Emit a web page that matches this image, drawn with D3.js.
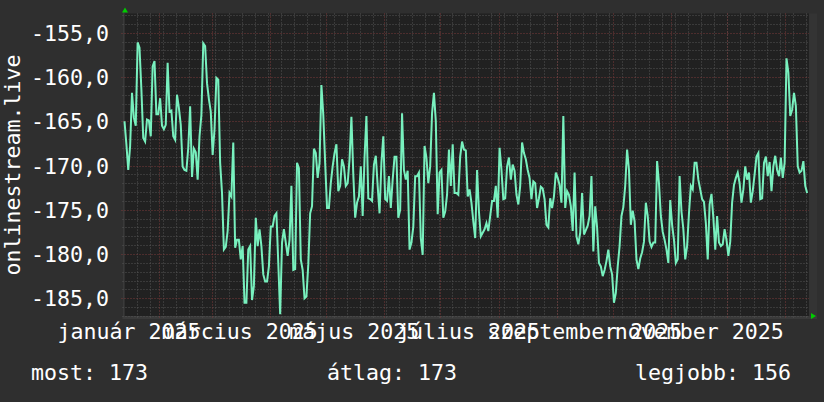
<!DOCTYPE html>
<html>
<head>
<meta charset="utf-8">
<script src="https://cdn.jsdelivr.net/npm/d3@7"></script>
<style>
  body { margin: 0; background: #2f2f2f; }
  svg { display: block; }
  text { font-family: "DejaVu Sans Mono", monospace; font-size: 21.6px; fill: #ffffff; }
</style>
</head>
<body>
<svg id="chart"></svg>
<script>
// napi értékek, 2025-01-13-tól egy évig
const startDate = Date.UTC(2025, 0, 13, 13);
const days = 365;
const values = [
    -165.0, -167.6, -170.5, -167.8, -161.8, -164.6, -165.5, -156.1, -156.7, -161.4,
    -166.9, -167.3, -164.8, -164.9, -166.7, -158.8, -158.2, -164.2, -164.2, -162.4,
    -165.5, -165.9, -165.4, -158.4, -163.9, -163.8, -166.7, -167.1, -162.0, -163.5,
    -165.4, -170.1, -170.5, -170.6, -168.0, -163.3, -171.3, -168.1, -168.5, -171.6,
    -166.7, -164.3, -156.2, -156.5, -160.7, -162.5, -163.9, -168.8, -165.9, -160.1,
    -160.3, -169.7, -173.1, -179.5, -179.2, -177.4, -173.1, -173.5, -167.4, -179.3,
    -178.4,
    -178.4, -180.6, -179.1, -185.5, -185.5, -179.5, -179.1, -185.2, -183.6, -175.9,
    -179.1, -177.2, -179.1, -182.3, -183.1, -183.1, -181.4, -176.9, -176.9, -175.7,
    -175.4, -181.0, -186.8, -178.7, -177.2, -178.7, -180.2, -178.4, -172.3, -181.8,
    -181.7, -169.7, -170.3, -180.6, -181.8, -185.0, -184.8, -181.2, -175.4, -174.6,
    -168.1, -168.6, -171.4, -169.7, -160.9, -164.3, -169.7, -174.8, -174.8, -172.0,
    -170.1, -168.6, -167.6, -172.9, -172.3, -169.3, -170.1, -172.3, -172.0, -169.3,
    -164.5,
    -171.0, -175.9, -174.2, -173.5, -170.1, -175.7, -169.1, -164.4, -173.7, -173.8,
    -174.0, -169.9, -168.9, -172.3, -175.4, -169.7, -166.7, -173.8, -174.0, -171.2,
    -174.8, -171.6, -169.0, -169.0, -175.9, -175.0, -164.1, -170.5, -171.6, -170.6,
    -179.5, -178.7, -176.9, -171.2, -171.2, -170.8, -178.2, -180.1, -167.8, -169.1,
    -172.0, -170.1, -164.1, -161.8, -165.0, -175.5, -170.8, -170.5, -175.9, -175.2,
    -173.3, -168.2, -172.3, -167.6, -173.1, -173.1, -173.3, -169.0, -167.3, -168.2,
    -168.3, -173.5, -172.7, -174.2, -176.3, -178.2, -170.5, -175.2, -178.0, -177.6,
    -177.2, -176.5, -177.4, -175.7, -174.0, -174.0, -172.3, -175.9, -168.0, -170.5,
    -173.8, -173.7, -170.1, -169.1, -171.6, -169.9, -170.6, -173.3, -174.4, -172.3,
    -167.4, -168.6, -169.3, -170.5, -171.4, -173.8, -171.8, -172.0, -174.8, -173.7,
    -172.4, -172.6, -173.8, -176.7, -177.0, -173.7, -174.8, -173.5, -170.8, -171.4,
    -172.2, -174.2, -164.4, -174.8, -172.9, -173.3, -174.6, -177.4, -170.8, -178.0,
    -178.9,
    -177.6, -173.1, -177.8, -177.3, -176.8, -175.7, -171.2, -179.7, -174.6, -177.0,
    -181.0, -181.4, -182.5, -181.8, -180.8, -179.5, -181.4, -182.3, -185.5, -184.4,
    -181.4, -179.1, -175.7, -174.7, -172.3, -168.2, -170.5, -176.7, -175.1, -176.3,
    -180.6, -181.7, -180.5, -179.8, -178.6, -174.2, -175.7, -178.6, -179.2, -178.7,
    -178.7, -169.5, -172.0, -175.7, -177.5, -178.4, -179.5, -181.0, -173.9, -176.7,
    -178.4, -181.0, -180.6, -171.2, -175.2, -177.2, -180.6, -179.1, -175.4, -172.3,
    -172.7,
    -169.7, -169.7, -171.6, -172.7, -173.8, -174.1, -176.5, -180.6, -174.4, -173.2,
    -175.9, -179.5, -175.7, -178.7, -179.1, -178.9, -177.2, -178.4, -180.2, -178.6,
    -174.2, -172.2, -171.4, -170.8, -172.0, -174.2, -172.7, -170.1, -171.6, -170.8,
    -174.2, -172.9, -171.0, -169.0, -168.6, -173.8, -173.7, -169.7, -169.0, -171.2,
    -169.6, -172.9, -170.1, -168.9, -170.5, -171.2, -169.1, -171.4, -169.7, -157.9,
    -159.5, -164.4, -163.7, -161.8, -163.3, -170.1, -170.8, -170.6, -169.5, -172.3,
    -173.1
];

const monthLabels = ['január 2025', 'március 2025', 'május 2025', 'július 2025', 'szeptember 2025', 'november 2025'];
const labelMonths = [0, 2, 4, 6, 8, 10];
const yTicks = [-185, -180, -175, -170, -165, -160, -155];
const yDomain = [-187, -152.83];
const legendItems = ['most: 173', 'átlag: 173', 'legjobb: 156'];
const axisTitle = 'onlinestream.live';

const width = 824;
const height = 402;
const plot = { left: 124.5, right: 809, top: 13.5, bottom: 316 };
const DAY = 864e5;
const t0 = new Date(startDate);
const t1 = new Date(startDate + days * DAY);

let hu = d3.formatLocale({ decimal: ',', thousands: ' ', grouping: [3], currency: ['', ' Ft'], minus: '-' });
let fmt = hu.format('.1f');

let x = d3.scaleUtc().domain([t0, t1]).range([plot.left, plot.right]);
let y = d3.scaleLinear().domain(yDomain).range([plot.bottom, plot.top]);

let svg = d3.select('#chart')
    .attr('width', width)
    .attr('height', height);

svg.append('rect')
    .attr('width', width)
    .attr('height', height)
    .attr('fill', '#2f2f2f');

// jobb oldali sáv és tengelyek
svg.append('rect')
    .attr('x', plot.right).attr('y', plot.top)
    .attr('width', 8).attr('height', plot.bottom - plot.top)
    .attr('fill', '#343434');

svg.append('rect')
    .attr('x', plot.left).attr('y', plot.top)
    .attr('width', plot.right - plot.left)
    .attr('height', plot.bottom - plot.top)
    .attr('fill', '#212121');

svg.append('rect')
    .attr('x', plot.left - 2).attr('y', plot.bottom)
    .attr('width', plot.right - plot.left + 10).attr('height', 3)
    .attr('fill', '#3a3a3a');

svg.append('rect')
    .attr('x', plot.left - 1.5).attr('y', plot.top - 3)
    .attr('width', 1.5).attr('height', plot.bottom - plot.top + 3)
    .attr('fill', '#3a3a3a');

let grid = svg.append('g');

// heti segédrács
grid.selectAll('.week')
    .data(d3.utcMonday.range(t0, t1))
    .enter()
    .append('line')
    .attr('x1', d => Math.round(x(d)) + 0.5)
    .attr('x2', d => Math.round(x(d)) + 0.5)
    .attr('y1', plot.top)
    .attr('y2', plot.bottom + 2)
    .attr('stroke', '#555555')
    .attr('stroke-dasharray', '1,2');

let hLines = d3.range(Math.ceil(yDomain[0]), Math.floor(yDomain[1]) + 1);

grid.selectAll('.hmin')
    .data(hLines.filter(v => v % 5 !== 0))
    .enter()
    .append('line')
    .attr('x1', plot.left - 2)
    .attr('x2', plot.right)
    .attr('y1', d => Math.round(y(d)) + 0.5)
    .attr('y2', d => Math.round(y(d)) + 0.5)
    .attr('stroke', '#555555')
    .attr('stroke-dasharray', '1,2');

// havi fő rács
grid.selectAll('.month')
    .data(d3.utcMonth.range(t0, t1))
    .enter()
    .append('line')
    .attr('x1', d => Math.round(x(d)) + 0.5)
    .attr('x2', d => Math.round(x(d)) + 0.5)
    .attr('y1', plot.top)
    .attr('y2', plot.bottom + 3)
    .attr('stroke', '#7a3a3a')
    .attr('stroke-dasharray', '1,2');

grid.selectAll('.hmaj')
    .data(hLines.filter(v => v % 5 === 0))
    .enter()
    .append('line')
    .attr('x1', plot.left - 3)
    .attr('x2', plot.right)
    .attr('y1', d => Math.round(y(d)) + 0.5)
    .attr('y2', d => Math.round(y(d)) + 0.5)
    .attr('stroke', '#7a3a3a')
    .attr('stroke-dasharray', '1,2');

// adatsor
let line = d3.line()
    .x((d, i) => x(new Date(startDate + i * DAY)))
    .y(d => y(d));

svg.append('path')
    .datum(values)
    .attr('d', line)
    .attr('fill', 'none')
    .attr('stroke', '#78f0be')
    .attr('stroke-width', 2)
    .attr('stroke-linejoin', 'miter');

// nyilak
svg.append('path')
    .attr('d', `M${plot.left - 2.5},${plot.top - 1}L${plot.left + 0.5},${plot.top - 6}L${plot.left + 3.5},${plot.top - 1}Z`)
    .attr('fill', '#00cc00');
svg.append('path')
    .attr('d', `M${plot.right + 2},${plot.bottom - 3}L${plot.right + 7},${plot.bottom}L${plot.right + 2},${plot.bottom + 3}Z`)
    .attr('fill', '#00cc00');

// y feliratok
svg.selectAll('.ylab')
    .data(yTicks)
    .enter()
    .append('text')
    .attr('x', 109)
    .attr('y', d => y(d) + 8)
    .attr('text-anchor', 'end')
    .text(d => fmt(d));

// x feliratok (hónap közepére igazítva)
svg.selectAll('.xlab')
    .data(labelMonths)
    .enter()
    .append('text')
    .attr('x', (d, i) => x(new Date(Date.UTC(2025, d, 1) + 15 * DAY)))
    .attr('y', 339)
    .attr('text-anchor', 'middle')
    .text((d, i) => monthLabels[i]);

svg.append('text')
    .attr('transform', 'translate(20,165) rotate(-90)')
    .attr('text-anchor', 'middle')
    .text(axisTitle);

let legendX = [31, 327, 635];
svg.selectAll('.legend')
    .data(legendItems)
    .enter()
    .append('text')
    .attr('x', (d, i) => legendX[i])
    .attr('y', 380)
    .text(d => d);
</script>
</body>
</html>
